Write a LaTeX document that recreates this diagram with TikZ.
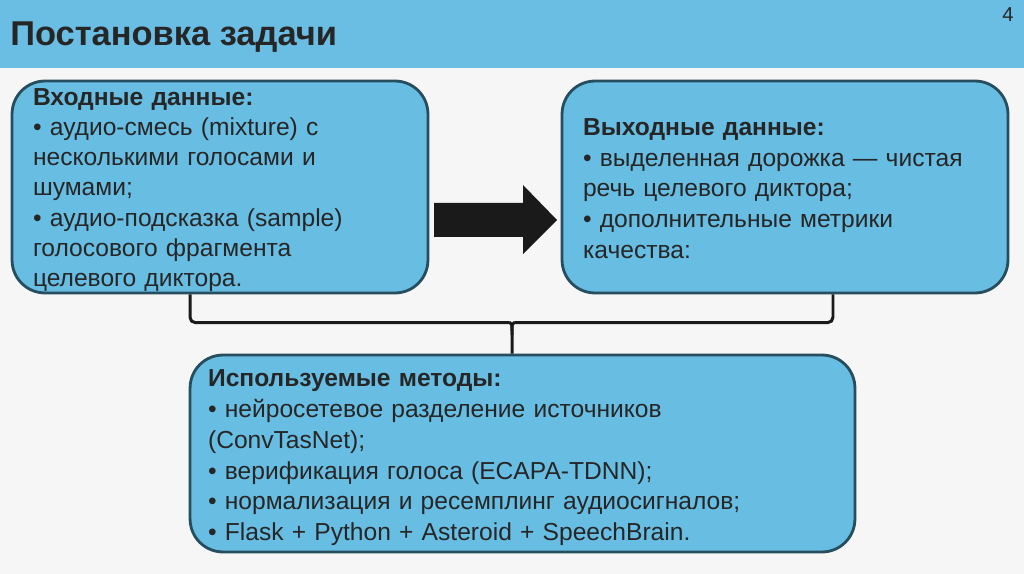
\documentclass[tikz,border=0pt]{standalone}
\usepackage{fontspec}
\setmainfont{Liberation Sans}
\usetikzlibrary{calc}
\definecolor{slidebg}{RGB}{246,246,246}
\definecolor{barblue}{RGB}{106,190,228}
\definecolor{boxblue}{RGB}{104,189,227}
\definecolor{boxedge}{RGB}{38,78,94}
\definecolor{inktext}{RGB}{38,38,38}
\definecolor{inkdark}{RGB}{26,26,26}

\begin{document}
\begin{tikzpicture}[x=0.02cm,y=-0.02cm,
  box/.style={draw=boxedge,line width=1.6pt,fill=boxblue,rounded corners=0.66cm,
    inner xsep=0.42cm,inner ysep=0pt,align=left,text=inktext,
    font=\fontsize{14}{17.5}\selectfont},
  lift/.style={execute at begin node={\rule{0pt}{#1}}},
  brace/.style={inkdark,line width=1.7pt}]
\fill[slidebg] (0,0) rectangle (1024,574);
\fill[barblue] (0,0) rectangle (1024,68);
\node[anchor=base west,inner sep=0pt,text=inktext,font=\bfseries\fontsize{19.6}{24}\selectfont] (title) at (10,46) {Постановка задачи};
\node[inner sep=0pt,text=inktext,font=\fontsize{11.5}{13}\selectfont] (page) at (1008,15) {4};

\node[box,lift=13pt,font=\fontsize{14}{17.2}\selectfont,minimum width=8.32cm,minimum height=4.24cm,text width=7.48cm] (in) at (220,187)
  {\textbf{Входные данные:}\\
   • аудио-смесь (mixture) с\\
   несколькими голосами и\\
   шумами;\\
   • аудио-подсказка (sample)\\
   голосового фрагмента\\
   целевого диктора.};
\node[box,lift=11.5pt,minimum width=8.92cm,minimum height=4.24cm,text width=8.08cm] (out) at (785,187)
  {\textbf{Выходные данные:}\\
   • выделенная дорожка — чистая\\
   речь целевого диктора;\\
   • дополнительные метрики\\
   качества:};
\node[box,lift=14.5pt,minimum width=13.3cm,minimum height=3.94cm,text width=12.58cm,inner xsep=0.36cm] (meth) at (522.5,453.5)
  {\textbf{Используемые методы:}\\
   • нейросетевое разделение источников\\
   (ConvTasNet);\\
   • верификация голоса (ECAPA-TDNN);\\
   • нормализация и ресемплинг аудиосигналов;\\
   • Flask + Python + Asteroid + SpeechBrain.};

\fill[inkdark] (434,203) -- (523,203) -- (523,185) -- (557,220) -- (523,254) -- (523,237) -- (434,237) -- cycle;

\coordinate (mid) at ([xshift=-0.21cm]meth.north);
\coordinate (knot) at ([yshift=0.62cm]mid);
\draw[brace] ([xshift=-0.6cm]in.south) [rounded corners=3pt] |- ([xshift=-0.2cm]knot) [sharp corners] .. controls (knot) .. ([yshift=-0.24cm]knot) -- (mid);
\draw[brace] ([xshift=0.96cm]out.south) [rounded corners=3pt] |- ([xshift=0.2cm]knot) [sharp corners] .. controls (knot) .. ([yshift=-0.24cm]knot);
\end{tikzpicture}
\end{document}
